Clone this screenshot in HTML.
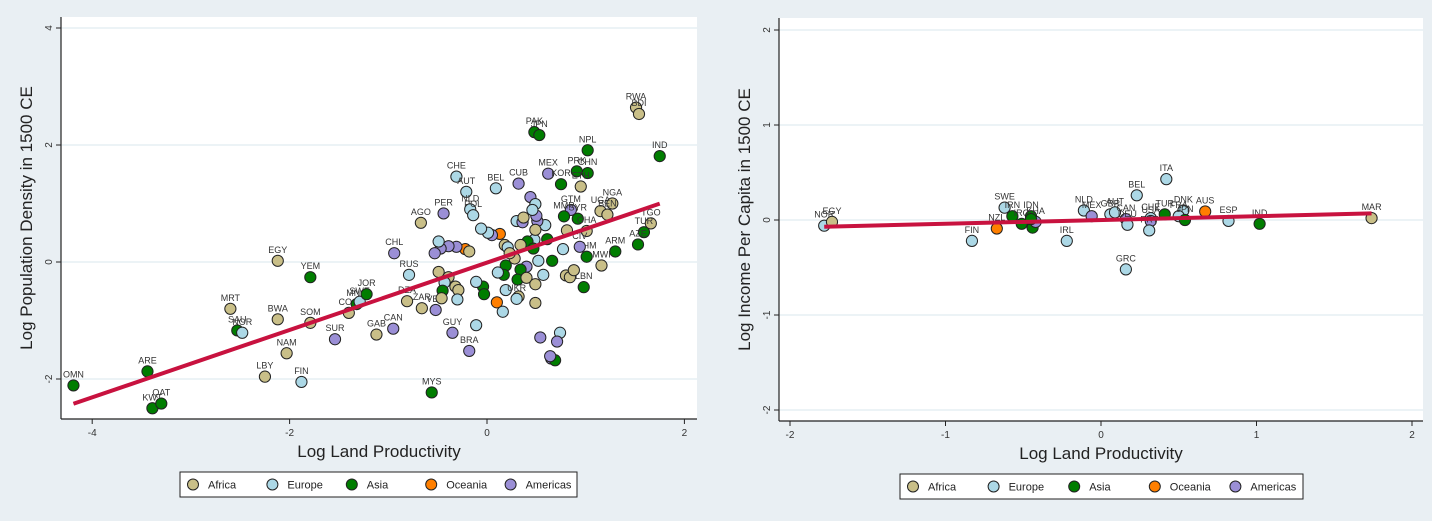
<!DOCTYPE html>
<html><head><meta charset="utf-8">
<style>
html,body{margin:0;padding:0;background:#e9eff3;}
svg{display:block;font-family:"Liberation Sans",Arial,sans-serif;}
</style></head>
<body>
<svg id="chart" width="1432" height="521" viewBox="0 0 1432 521"></svg>
<script>
// ---------- Left chart data ----------
const leftLabels = ["OMN","ARE","KWT","QAT","MRT","SAU","NOR","LBY","EGY","BWA","NAM","FIN","YEM","SOM","SUR","COG","MNG","SWE","JOR","GAB","CAN","CHL","RUS","DZA","ZAR","AGO","PER","VEN","GUY","BRA","MYS","CHE","AUT","NLD","POL","BEL","CUB","MEX","PAK","JPN","NPL","IND","RWA","BDI","PRK","CHN","KOR","ETH","UGA","NGA","BEN","TGO","TUR","AZE","ARM","MWI","LBN","GTM","MMR","SYR","GHA","KHM","CIV","","","","","","","","","","","","","","","","","","","","","","","","","","","","","","","","","","","","","","","","","","","","","UKR","","","","","","","","","","","","","","","","",""];
const leftContinent = ["Asia","Asia","Asia","Asia","Africa","Asia","Europe","Africa","Africa","Africa","Africa","Europe","Asia","Africa","Americas","Africa","Asia","Europe","Asia","Africa","Americas","Americas","Europe","Africa","Africa","Africa","Americas","Americas","Americas","Americas","Asia","Europe","Europe","Europe","Europe","Europe","Americas","Americas","Asia","Asia","Asia","Asia","Africa","Africa","Asia","Asia","Asia","Africa","Africa","Africa","Africa","Africa","Asia","Asia","Asia","Africa","Asia","Americas","Asia","Asia","Africa","Asia","Americas","Africa","Africa","Africa","Asia","Asia","Europe","Africa","Europe","Americas","Americas","Americas","Europe","Europe","Europe","Americas","Africa","Europe","Asia","Africa","Asia","Africa","Africa","Europe","Oceania","Americas","Europe","Europe","Africa","Africa","Americas","Europe","Asia","Asia","Asia","Europe","Asia","Africa","Europe","Africa","Asia","Asia","Europe","Europe","Africa","Europe","Africa","Oceania","Europe","Europe","Americas","Europe","Americas","Americas","Asia","Americas","Oceania","Africa","Americas","Americas","Americas","Americas","Europe","Africa","Africa","Europe","Asia","Africa","Africa","Africa","Europe"];
const leftX = [-4.19,-3.44,-3.39,-3.30,-2.60,-2.53,-2.48,-2.25,-2.12,-2.12,-2.03,-1.88,-1.79,-1.79,-1.54,-1.40,-1.32,-1.29,-1.22,-1.12,-0.95,-0.94,-0.79,-0.81,-0.66,-0.67,-0.44,-0.52,-0.35,-0.18,-0.56,-0.31,-0.21,-0.17,-0.14,0.09,0.32,0.62,0.48,0.53,1.02,1.75,1.51,1.54,0.91,1.02,0.75,0.95,1.15,1.27,1.22,1.66,1.59,1.53,1.30,1.16,0.98,0.85,0.78,0.92,1.01,1.01,0.94,0.81,0.80,0.84,0.66,0.61,0.77,0.88,0.59,0.51,0.50,0.44,0.49,0.46,0.30,0.36,0.37,0.48,0.41,0.49,0.47,0.34,0.18,0.21,0.13,0.05,0.01,-0.06,0.28,0.23,0.40,0.52,0.34,0.19,0.17,0.11,0.31,0.40,0.57,0.49,-0.04,-0.03,-0.11,0.19,0.32,0.30,0.49,0.10,0.16,-0.11,0.54,0.74,0.71,0.65,0.69,0.64,-0.22,-0.18,-0.31,-0.39,-0.47,-0.53,-0.49,-0.49,-0.39,-0.43,-0.45,-0.46,-0.32,-0.29,-0.30];
const leftY = [-2.11,-1.87,-2.50,-2.42,-0.80,-1.17,-1.21,-1.96,0.02,-0.98,-1.56,-2.05,-0.26,-1.04,-1.32,-0.87,-0.72,-0.68,-0.55,-1.24,-1.14,0.15,-0.22,-0.67,-0.79,0.67,0.83,-0.82,-1.21,-1.52,-2.23,1.46,1.20,0.90,0.80,1.26,1.34,1.51,2.22,2.17,1.91,1.81,2.64,2.53,1.55,1.52,1.33,1.29,0.87,1.00,0.81,0.66,0.51,0.30,0.18,-0.06,-0.43,0.89,0.78,0.74,0.53,0.09,0.26,0.54,-0.23,-0.26,0.02,0.39,0.22,-0.14,0.63,0.70,0.79,1.11,0.99,0.89,0.70,0.68,0.76,0.38,0.35,0.55,0.23,0.29,0.29,0.25,0.48,0.46,0.50,0.57,0.06,0.15,-0.08,0.02,-0.13,-0.06,-0.22,-0.18,-0.30,-0.27,-0.22,-0.38,-0.42,-0.55,-0.34,-0.48,-0.59,-0.63,-0.70,-0.69,-0.85,-1.08,-1.29,-1.21,-1.36,-1.65,-1.68,-1.61,0.22,0.18,0.26,0.27,0.23,0.15,0.35,-0.17,-0.26,-0.35,-0.49,-0.62,-0.42,-0.48,-0.64];
const leftXTicks = [-4,-2,0,2];
const leftYTicks = [-2,0,2,4];
const leftFit = [0.576,-0.01]; // slope, intercept

// ---------- Right chart data ----------
const rightLabels = ["NOR","EGY","FIN","SWE","IRN","NZL","IRQ","IDN","","KHA","","IRL","NLD","MEX","GBR","AUT","CAN","DEU","BEL","GRC","ITA","CHE","USA","PRT","TUR","DNK","FRA","JPN","AUS","ESP","IND","MAR"];
const rightContinent = ["Europe","Africa","Europe","Europe","Asia","Oceania","Asia","Asia","Asia","Americas","Asia","Europe","Europe","Americas","Europe","Europe","Americas","Europe","Europe","Europe","Europe","Europe","Americas","Europe","Asia","Europe","Europe","Asia","Oceania","Europe","Asia","Africa"];
const rightX = [-1.78,-1.73,-0.83,-0.62,-0.57,-0.67,-0.51,-0.45,-0.44,-0.42,-0.45,-0.22,-0.11,-0.06,0.06,0.09,0.16,0.17,0.23,0.16,0.42,0.32,0.32,0.31,0.41,0.53,0.50,0.54,0.67,0.82,1.02,1.74];
const rightY = [-0.06,-0.02,-0.22,0.13,0.04,-0.09,-0.04,0.04,-0.08,-0.02,0.01,-0.22,0.10,0.04,0.06,0.08,0.01,-0.05,0.26,-0.52,0.43,0.02,-0.01,-0.11,0.06,0.10,0.04,0.00,0.09,-0.01,-0.04,0.02];
const rightXTicks = [-2,-1,0,1,2];
const rightYTicks = [-2,-1,0,1,2];
const rightFit = [0.04,0.0];

const continents = ["Africa","Europe","Asia","Oceania","Americas"];
const colors = {Africa:"#c9bf88",Europe:"#acd8e6",Asia:"#007d00",Oceania:"#ff7f00",Americas:"#9b8fd6"};

const svg = document.getElementById('chart');
const NS = "http://www.w3.org/2000/svg";
function mk(tag, attrs, parent){
  const e = document.createElementNS(NS, tag);
  for (const k in attrs) e.setAttribute(k, attrs[k]);
  (parent||svg).appendChild(e);
  return e;
}

function drawChart(cfg){
  const g = mk('g', {});
  
  
  const sx = v => cfg.x0px + (v - cfg.x0v) * cfg.xScale;
  const sy = v => cfg.y0px - (v - cfg.y0v) * cfg.yScale;
  // plot area
  const pa = mk('rect', {x:cfg.left, y:cfg.top, width:cfg.right-cfg.left, height:cfg.bottom-cfg.top, fill:'#ffffff'}, g);
  
  
  // gridlines + y ticks
  cfg.yTicks.forEach(t => {
    const y = sy(t);
    const gl = mk('line', {x1:cfg.left, x2:cfg.right, y1:y, y2:y, stroke:'#e6eff4', 'stroke-width':1.5}, g);
    
    
    mk('line', {x1:cfg.left-5, x2:cfg.left, y1:y, y2:y, stroke:'#222', 'stroke-width':1}, g);
    const tl = mk('text', {x:cfg.left-9, y:y, 'font-size':10, fill:'#333', 'text-anchor':'middle', transform:`rotate(-90 ${cfg.left-9} ${y})`}, g);
    tl.textContent = String(t);
    
    
  });
  cfg.xTicks.forEach(t => {
    const x = sx(t);
    mk('line', {x1:x, x2:x, y1:cfg.bottom, y2:cfg.bottom+5, stroke:'#222', 'stroke-width':1}, g);
    const tl = mk('text', {x:x, y:cfg.bottom+17, 'font-size':10, fill:'#333', 'text-anchor':'middle'}, g);
    tl.textContent = String(t);
    
    
  });
  // axes lines
  const ya = mk('line', {x1:cfg.left, x2:cfg.left, y1:cfg.top, y2:cfg.bottom, stroke:'#222', 'stroke-width':1.2}, g);
  
  
  const xa = mk('line', {x1:cfg.left, x2:cfg.right, y1:cfg.bottom, y2:cfg.bottom, stroke:'#222', 'stroke-width':1.2}, g);
  
  
  // points
  for (let i=0;i<cfg.xs.length;i++){
    const c = mk('circle', {cx:sx(cfg.xs[i]), cy:sy(cfg.ys[i]), r:5.6, fill:colors[cfg.cont[i]], stroke:'#222', 'stroke-width':1}, g);
    
    
    if (cfg.labels[i]){
      const t = mk('text', {x:sx(cfg.xs[i]), y:sy(cfg.ys[i])-8, 'font-size':9, fill:'#333', 'text-anchor':'middle'}, g);
      t.textContent = cfg.labels[i];
      
      
    }
  }
  // fit line
  const xmin = Math.min(...cfg.xs), xmax = Math.max(...cfg.xs);
  const fl = mk('line', {x1:sx(xmin), y1:sy(cfg.fit[0]*xmin+cfg.fit[1]), x2:sx(xmax), y2:sy(cfg.fit[0]*xmax+cfg.fit[1]), stroke:'#c8123f', 'stroke-width':4, 'stroke-linecap':'butt'}, g);
  
  
  // titles
  const xt = mk('text', {x:(cfg.left+cfg.right)/2, y:cfg.bottom+38, 'font-size':17, fill:'#222', 'text-anchor':'middle'}, g);
  xt.textContent = 'Log Land Productivity';
  
  
  const ycx = cfg.left-29, ycy = (cfg.top+cfg.bottom)/2;
  const yt = mk('text', {x:ycx, y:ycy, 'font-size':17, fill:'#222', 'text-anchor':'middle', transform:`rotate(-90 ${ycx} ${ycy})`}, g);
  yt.textContent = cfg.ytitle;
  
  
  // legend
  const lg = mk('g', {}, g);
  
  
  mk('rect', {x:cfg.legX, y:cfg.legY, width:cfg.legW, height:25, fill:'#fff', stroke:'#222', 'stroke-width':1}, lg);
  const step = cfg.legW/5;
  continents.forEach((k,i)=>{
    const bx = cfg.legX + 13 + i*step;
    const e = mk('g', {}, lg);
    
    
    mk('circle', {cx:bx, cy:cfg.legY+12.5, r:5.5, fill:colors[k], stroke:'#222', 'stroke-width':1}, e);
    const t = mk('text', {x:bx+15, y:cfg.legY+16.5, 'font-size':11, fill:'#222'}, e);
    t.textContent = k;
  });
}

drawChart({name:'left-chart', left:61, right:697, top:17, bottom:419,
  x0v:0, x0px:487, xScale:98.7, y0v:0, y0px:262, yScale:58.5,
  xTicks:leftXTicks, yTicks:leftYTicks, xs:leftX, ys:leftY, cont:leftContinent, labels:leftLabels,
  fit:leftFit, ytitle:'Log Population Density in 1500 CE', legX:180, legY:472, legW:397});

drawChart({name:'right-chart', left:779, right:1423, top:18, bottom:421,
  x0v:0, x0px:1101, xScale:155.5, y0v:0, y0px:220, yScale:95,
  xTicks:rightXTicks, yTicks:rightYTicks, xs:rightX, ys:rightY, cont:rightContinent, labels:rightLabels,
  fit:rightFit, ytitle:'Log Income Per Capita in 1500 CE', legX:900, legY:474, legW:403});
</script>
</body></html>
